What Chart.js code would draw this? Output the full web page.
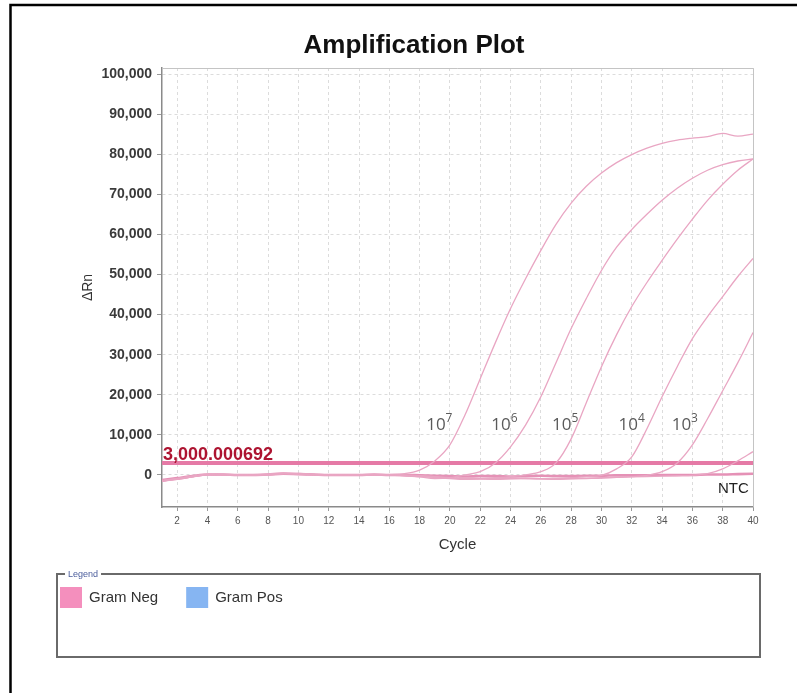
<!DOCTYPE html>
<html>
<head>
<meta charset="utf-8">
<title>Amplification Plot</title>
<script src="https://cdn.jsdelivr.net/npm/chart.js@4.4.1/dist/chart.umd.min.js"></script>
<style>
    body { margin: 0; background: #fff; }
    canvas { display: block; }
</style>
</head>
<body>
<canvas id="ampChart" width="797" height="693"></canvas>
<script>
// cycles and delta Rn readings per well
const cycles = [1, 2, 3, 4, 5, 6, 7, 8, 9, 10, 11, 12, 13, 14, 15, 16, 17, 18, 19, 20,
    21, 22, 23, 24, 25, 26, 27, 28, 29, 30, 31, 32, 33, 34, 35, 36, 37, 38, 39, 40];

const rn1e7 = [-1600, -1100, -500, 100, 200, 0, -100, 100, 400, 200, 0, -100, 0, 100, 0, 100,
    300, 1200, 3500, 7500, 15000, 24000, 33000, 41500, 49000, 56000, 62500, 67800, 72000, 75300,
    77900, 79900, 81500, 82700, 83500, 84000, 84400, 85200, 84500, 85000];
const rn1e6 = [-1400, -900, -400, 200, 100, -100, 0, 200, 500, 300, 100, 0, -100, 0, 100, 0, -200, -500, -900, -700,
    0, 800, 3000, 7000, 12500, 19500, 28000, 36500, 44000, 51000, 56800, 61200, 65000, 68500, 71500, 74000,
    76000, 77400, 78300, 78800];
const rn1e5 = [-1500, -1000, -300, 100, 0, 100, -100, 0, 300, 400, 200, 0, 0, -100, 0, 100, 0, -200, -400, -800,
    -1000, -900, -700, -400, 0, 800, 3000, 9000, 18000, 27000, 35000, 42000, 48000, 53500, 58800, 63800,
    68500, 72500, 76000, 78800];
const rn1e4 = [-1500, -1100, -500, 0, 100, 0, -100, 100, 300, 200, 100, 0, -100, 0, 100, 0, -100, -300, -600, -900,
    -1100, -1000, -900, -800, -900, -1000, -900, -700, -400, -100, 1500, 4500, 11500, 19500, 27000, 34000,
    39500, 44500, 49500, 54000];
const rn1e3 = [-1600, -1000, -400, 100, 0, -100, 0, 200, 400, 300, 100, -100, 0, 100, 0, -100, -200, -400, -600, -800,
    -900, -1000, -1100, -1000, -900, -1000, -1100, -1000, -900, -800, -600, -400, -100, 800, 3000, 7500,
    14000, 21000, 28000, 35500];
const rn1e2 = [-1400, -900, -300, 100, 0, 0, -100, 100, 300, 200, 0, -100, 0, 0, 100, 0, -100, -300, -500, -700,
    -800, -900, -1000, -900, -800, -900, -1000, -900, -800, -700, -600, -500, -400, -300, -200, -100,
    300, 1500, 3500, 5800];
const rnNtc = [-1300, -800, -300, 100, 100, 0, 0, 100, 300, 200, 100, 0, 0, 0, 100, 0, 0, -100, -200, -300,
    -400, -300, -300, -400, -300, -200, -300, -300, -200, -200, -100, -100, -100, 0, 0, 0, 100, 100, 200, 300];

const thresholdValue = 3000.000692;

const xTicks = [2, 4, 6, 8, 10, 12, 14, 16, 18, 20, 22, 24, 26, 28, 30, 32, 34, 36, 38, 40];
const yTicks = [0, 10000, 20000, 30000, 40000, 50000, 60000, 70000, 80000, 90000, 100000];

// curve annotations: base text, exponent, cycle, delta Rn
const labelBases = ['10', '10', '10', '10', '10', 'NTC'];
const labelExps = ['7', '6', '5', '4', '3', ''];
const labelCycles = [19.3, 23.6, 27.6, 32.0, 35.5, 38.7];
const labelValues = [12500, 12500, 12500, 12500, 12500, -3500];

const legendLabels = ['Gram Neg', 'Gram Pos'];
const legendColors = ['#f48fbd', '#86b5f2'];

const curveColor = '#e9a6c3';

function toPoints(values) {
    return values.map((v, i) => ({ x: cycles[i], y: v }));
}

const wells = [rn1e7, rn1e6, rn1e5, rn1e4, rn1e3, rn1e2];
const datasets = wells.map(w => ({
    data: toPoints(w),
    borderColor: curveColor,
    borderWidth: 1.3,
    pointRadius: 0,
    cubicInterpolationMode: 'monotone'
}));
datasets.push({
    data: toPoints(rnNtc),
    borderColor: '#e591b6',
    borderWidth: 2.6,
    pointRadius: 0,
    cubicInterpolationMode: 'monotone'
});
datasets.push({
    data: [{ x: cycles[0], y: thresholdValue }, { x: cycles[cycles.length - 1], y: thresholdValue }],
    borderColor: '#e57aa6',
    borderWidth: 4,
    pointRadius: 0
});

// extra drawing: frame, title, axis titles, annotations and legend box
const decorations = {
    id: 'decorations',
    afterDatasetsDraw(chart) {
        const ctx = chart.ctx;
        const area = chart.chartArea;
        const xs = chart.scales.x;
        const ys = chart.scales.y;
        ctx.save();

        // plot border top/right
        ctx.strokeStyle = '#c4c4c4';
        ctx.lineWidth = 1;
        ctx.beginPath();
        ctx.moveTo(area.left, area.top + 0.5);
        ctx.lineTo(area.right + 0.5, area.top + 0.5);
        ctx.lineTo(area.right + 0.5, area.bottom);
        ctx.stroke();

        // threshold value label
        const thr = thresholdValue.toLocaleString('en-US', { minimumFractionDigits: 6 });
        ctx.font = 'bold 18px Arial';
        ctx.fillStyle = '#ad1330';
        ctx.textAlign = 'left';
        ctx.textBaseline = 'alphabetic';
        ctx.fillText(thr, area.left + 1, ys.getPixelForValue(thresholdValue) - 3);

        // curve labels with superscript exponent
        ctx.textBaseline = 'middle';
        labelBases.forEach((t, i) => {
            const px = xs.getPixelForValue(labelCycles[i]);
            const py = ys.getPixelForValue(labelValues[i]);
            if (labelExps[i] === '') {
                ctx.font = '15px Arial';
                ctx.fillStyle = '#222';
                ctx.textAlign = 'center';
                ctx.fillText(t, px, py);
                return;
            }
            ctx.font = '17px "Open Sans"';
            const bw = ctx.measureText(t).width;
            ctx.font = '12px "Open Sans"';
            const ew = ctx.measureText(labelExps[i]).width;
            const x0 = px - (bw + ew) / 2;
            ctx.fillStyle = '#5a5a5a';
            ctx.textAlign = 'left';
            ctx.font = '17px "Open Sans"';
            ctx.fillText(t, x0, py);
            ctx.font = '12px "Open Sans"';
            ctx.fillText(labelExps[i], x0 + bw, py - 6);
        });

        // axis titles
        ctx.textAlign = 'center';
        ctx.fillStyle = '#333';
        ctx.font = '15px Arial';
        ctx.fillText('Cycle', (area.left + area.right) / 2, 545);
        ctx.save();
        ctx.translate(88, (area.top + area.bottom) / 2);
        ctx.rotate(-Math.PI / 2);
        ctx.font = '14px Arial';
        ctx.fillText('\u0394Rn', 0, 0);
        ctx.restore();

        // title
        ctx.fillStyle = '#111';
        ctx.font = 'bold 26px Arial';
        ctx.fillText('Amplification Plot', 414, 46);

        // outer frame (left + top)
        ctx.strokeStyle = '#000';
        ctx.lineWidth = 2.5;
        ctx.beginPath();
        ctx.moveTo(10.5, 693);
        ctx.lineTo(10.5, 5);
        ctx.lineTo(797, 5);
        ctx.stroke();

        // legend box
        ctx.strokeStyle = '#6a6a6a';
        ctx.lineWidth = 2;
        ctx.strokeRect(57, 574, 703, 83);
        ctx.font = '9px Arial';
        const lw = ctx.measureText('Legend').width;
        ctx.fillStyle = '#fff';
        ctx.fillRect(65, 568, lw + 6, 12);
        ctx.fillStyle = '#4b5d9c';
        ctx.textAlign = 'left';
        ctx.fillText('Legend', 68, 575);

        let lx = 60;
        ctx.font = '15px Arial';
        legendLabels.forEach((t, i) => {
            ctx.fillStyle = legendColors[i];
            ctx.fillRect(lx, 587, 22, 21);
            ctx.fillStyle = '#333';
            ctx.fillText(t, lx + 29, 598);
            lx += 29 + ctx.measureText(t).width + 28;
        });

        ctx.restore();
    }
};

new Chart(document.getElementById('ampChart').getContext('2d'), {
    type: 'line',
    data: { datasets: datasets },
    plugins: [decorations],
    options: {
        responsive: false,
        animation: false,
        layout: { padding: { left: 0, top: 68, right: 44, bottom: 156 } },
        plugins: {
            legend: { display: false },
            tooltip: { enabled: false }
        },
        scales: {
            x: {
                type: 'linear',
                min: 1,
                max: 40,
                afterBuildTicks: s => { s.ticks = xTicks.map(v => ({ value: v })); },
                afterFit: s => { s.height = 30; },
                ticks: { font: { family: 'Arial', size: 10 }, color: '#555', padding: 4 },
                grid: { color: '#dcdcdc', tickColor: '#999', tickLength: 4, tickBorderDash: [] },
                border: { color: '#8a8a8a', width: 1.5, dash: [3, 3] }
            },
            y: {
                min: -8000,
                max: 101500,
                afterBuildTicks: s => { s.ticks = yTicks.map(v => ({ value: v })); },
                afterFit: s => { s.width = 162; },
                ticks: {
                    font: { family: 'Arial', size: 14, weight: 'bold' },
                    color: '#3a3a3a',
                    padding: 5,
                    callback: v => v.toLocaleString('en-US')
                },
                grid: { color: '#dcdcdc', tickColor: '#999', tickLength: 5, tickBorderDash: [] },
                border: { color: '#8a8a8a', width: 1.5, dash: [3, 3] }
            }
        }
    }
});
</script>
</body>
</html>
